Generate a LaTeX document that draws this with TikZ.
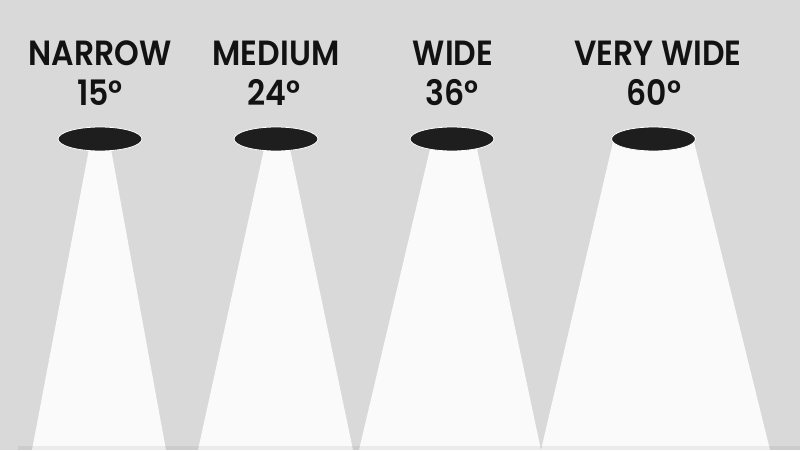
\documentclass[tikz,border=0pt]{standalone}
\usepackage{fontspec}
\setmainfont{Poppins}[BoldFont={Poppins SemiBold}]
\usetikzlibrary{shapes.geometric}
\definecolor{bg}{HTML}{D9D9D9}
\definecolor{beam}{HTML}{FAFAFA}
\definecolor{lamp}{HTML}{1E1E1E}
\definecolor{ink}{HTML}{121212}
\newcommand{\lbltxt}[1]{\scalebox{0.9}[1]{#1}}
\begin{document}
\begin{tikzpicture}[x=1pt,y=-1pt,
  lbl/.style={anchor=base,inner sep=0pt,text=ink,font=\fontsize{35}{35}\selectfont\bfseries},
  lampfill/.style={fill=lamp,draw=white,line width=0.8pt}]
\useasboundingbox (0,0) rectangle (800,450);
\fill[bg] (0,0) rectangle (800,450);
% beams
\fill[beam] (89,149) -- (111,149) -- (166,450) -- (32,450) -- cycle;
\fill[beam] (264,149) -- (290,149) -- (353,450) -- (198,450) -- cycle;
\fill[beam] (430,149) -- (477,149) -- (541,450) -- (359,450) -- cycle;
\fill[beam] (613,142) -- (694,142) -- (770,450) -- (541,450) -- cycle;
% bottom band
\fill[black,opacity=0.06] (18,446) rectangle (800,450);
% lamps
\draw[lampfill] (100,139) ellipse [x radius=42,y radius=12];
\draw[lampfill] (276,139) ellipse [x radius=42,y radius=12];
\draw[lampfill] (452,139) ellipse [x radius=42,y radius=12];
\draw[lampfill] (653.5,139) ellipse [x radius=42,y radius=12];
% labels
\node[lbl] (n1) at (100,65) {\lbltxt{NARROW}};
\node[lbl] (d1) at (100,105) {\lbltxt{15°}};
\node[lbl] (n2) at (276,65) {\lbltxt{MEDIUM}};
\node[lbl] (d2) at (274,105) {\lbltxt{24°}};
\node[lbl] (n3) at (453,65) {\lbltxt{WIDE}};
\node[lbl] (d3) at (452,105) {\lbltxt{36°}};
\node[lbl] (n4) at (658,65) {\lbltxt{VERY WIDE}};
\node[lbl] (d4) at (654,105) {\lbltxt{60°}};
\end{tikzpicture}
\end{document}
